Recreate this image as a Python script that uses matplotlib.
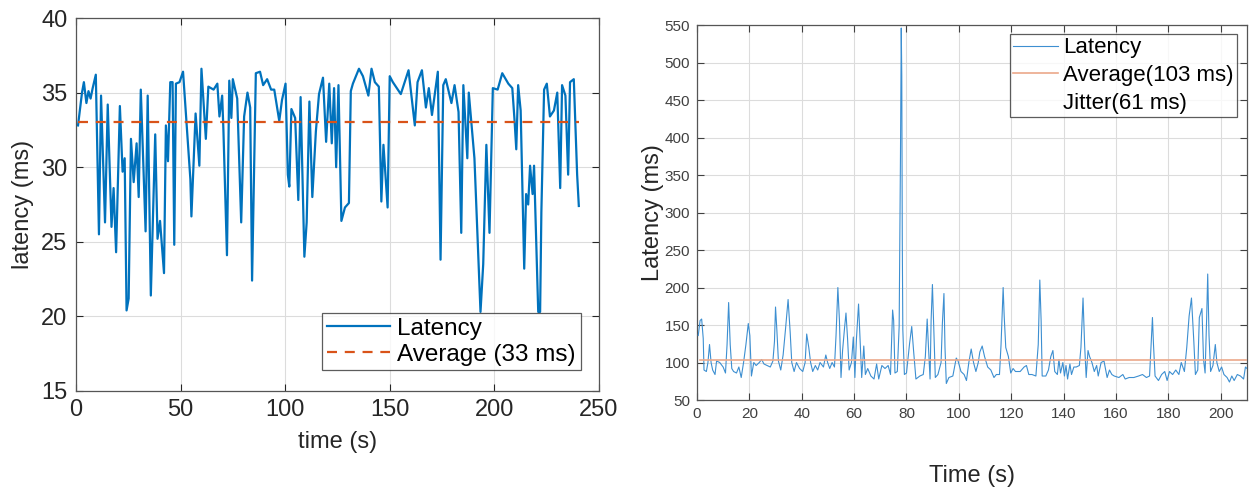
import matplotlib
matplotlib.use("Agg")
import matplotlib.pyplot as plt
from matplotlib.lines import Line2D

plt.rcParams['font.family'] = ['Liberation Sans', 'DejaVu Sans']

# ---------------- left panel data ----------------
left_time = [1, 2.9, 3.8, 5, 6, 7, 8, 9.5, 11, 12, 13.9, 15.2, 17, 18, 19.2, 21, 22.3, 23.3,
             24.2, 25.2, 26.3, 27.6, 29, 30, 31, 33.3, 34.3, 35.8, 37.9, 39, 40.2, 42.1, 43,
             44, 45.1, 46.2, 47, 47.8, 49.5, 51.2, 54.7, 55.2, 57.2, 59, 60, 62.1, 63.3, 65.8,
             67.6, 68.6, 69.9, 70.5, 72.2, 73.3, 74.3, 75, 77.1, 79, 80.4, 82, 83.3, 84.2, 86,
             88, 89.5, 91.4, 93.3, 94.8, 97.2, 98.5, 100.2, 101.3, 102, 103, 104.8, 106.3, 107.4,
             109.2, 110.3, 111.6, 113, 114.7, 116.2, 118.1, 119.6, 121.1, 122.3, 123.4, 124.4,
             125.5, 126.9, 128.6, 130.5, 131.4, 132.4, 135.3, 137.2, 139.8, 141.3, 142.9, 144.8,
             146, 147, 149, 150, 151.5, 155.3, 159, 162, 163.3, 165.4, 167.3, 168.7, 170.2, 173,
             174.3, 175.6, 176.8, 179.5, 181, 182.9, 184.2, 185.2, 187.1, 187.8, 190.5, 193.4,
             194.7, 196.2, 197.7, 199.3, 201.6, 203.8, 206.7, 208.6, 209.7, 210.5, 211.4, 212.6,
             214.3, 215.2, 216.2, 217.1, 218.3, 219, 221, 221.9, 222.5, 223.8, 225.1, 226.6,
             228.5, 230.1, 231.5, 232.4, 234, 235.3, 236.2, 238, 239.6, 240.4]
left_latency = [32.8, 35.0, 35.7, 34.3, 35.1, 34.6, 35.3, 36.2, 25.5, 34.8, 26.3, 34.2, 26.0,
                28.6, 24.3, 34.1, 29.7, 30.6, 20.4, 21.2, 31.9, 29.0, 31.6, 28.0, 35.2, 25.7,
                34.8, 21.4, 32.2, 25.2, 26.4, 22.9, 32.8, 30.4, 35.7, 35.7, 24.8, 35.6, 35.7,
                36.4, 29.2, 26.7, 33.6, 30.1, 36.6, 31.9, 35.4, 35.2, 35.6, 33.4, 34.8, 32.5,
                24.1, 35.8, 33.3, 35.9, 34.6, 26.3, 33.4, 35.0, 34.0, 22.4, 36.3, 36.4, 35.5,
                35.9, 35.2, 35.2, 33.1, 34.5, 35.6, 29.5, 28.7, 33.9, 33.3, 27.8, 34.7, 24.0,
                26.3, 34.4, 28.0, 32.4, 34.9, 36.0, 31.7, 35.6, 31.6, 35.3, 30.0, 35.5, 26.4,
                27.3, 27.6, 35.1, 35.6, 36.6, 36.1, 34.8, 36.6, 35.7, 35.4, 27.7, 31.5, 27.3,
                36.1, 35.7, 34.9, 36.5, 32.8, 35.7, 36.5, 34.0, 35.3, 33.5, 36.4, 23.8, 35.5,
                35.9, 34.3, 35.5, 33.7, 25.6, 35.5, 30.6, 35.0, 30.6, 20.3, 23.5, 31.5, 25.6,
                35.3, 35.2, 36.3, 35.6, 35.3, 33.1, 31.2, 35.5, 33.8, 23.2, 28.2, 27.5, 30.1,
                28.2, 30.1, 20.3, 20.3, 27.0, 35.2, 35.6, 33.4, 33.8, 35.0, 28.6, 35.5, 34.8,
                29.5, 35.7, 35.9, 29.5, 27.4]
left_average = 33

# ---------------- right panel data ----------------
right_time = [0.5, 1.2, 1.8, 2.4, 2.7, 3.6, 4.2, 4.8, 5.4, 6.0, 6.9, 7.5, 8.7, 10.0, 10.9,
              11.5, 12.1, 12.7, 13.3, 14.0, 15.1, 16.0, 16.9, 17.8, 18.7, 19.6, 20.2, 20.8,
              21.7, 22.6, 23.8, 24.7, 25.6, 26.8, 28.0, 29.0, 29.6, 30.0, 30.5, 31.1, 32.0,
              32.9, 33.8, 34.8, 35.6, 36.2, 37.1, 38.0, 39.2, 40.4, 41.3, 41.9, 42.7, 43.4,
              44.2, 45.2, 46.1, 47.0, 48.3, 49.2, 49.9, 50.7, 51.6, 52.5, 53.1, 53.8, 54.4,
              55.0, 55.6, 56.3, 56.9, 57.5, 58.1, 59.0, 59.7, 60.3, 60.9, 61.7, 62.3, 62.9,
              63.7, 64.3, 65.2, 66.4, 67.6, 68.6, 69.4, 70.6, 71.8, 73.0, 73.9, 74.7, 75.1,
              75.6, 76.5, 77.2, 77.7, 77.9, 78.0, 78.2, 78.4, 78.6, 79.2, 80.0, 81.2, 82.0,
              82.7, 83.6, 85.1, 86.4, 87.2, 87.9, 88.4, 89.0, 89.4, 89.9, 90.4, 91.0, 92.0,
              93.2, 93.7, 94.3, 94.7, 95.2, 96.2, 97.7, 99.0, 99.7, 100.8, 102.0, 102.9,
              103.8, 104.7, 105.6, 106.5, 107.4, 108.0, 108.9, 109.8, 111.0, 112.2, 113.4,
              114.3, 115.5, 116.1, 116.9, 117.3, 117.9, 118.9, 119.8, 120.7, 121.6, 123.4,
              124.9, 125.8, 126.7, 127.9, 129.4, 130.3, 130.9, 131.4, 131.8, 133.2, 134.2,
              135.1, 135.9, 136.6, 137.6, 138.2, 138.8, 139.7, 140.3, 140.9, 141.5, 142.4,
              143.0, 143.9, 144.8, 146.0, 146.6, 147.4, 148.0, 148.6, 149.3, 149.9, 150.8,
              151.7, 152.6, 153.2, 154.3, 155.4, 156.6, 157.5, 158.4, 159.3, 161.1, 162.6,
              163.5, 165.0, 166.8, 168.6, 170.1, 171.6, 172.8, 173.5, 173.9, 174.3, 174.9,
              176.2, 177.4, 178.6, 179.5, 180.4, 181.6, 182.8, 184.0, 184.9, 186.1, 187.0,
              187.9, 188.8, 189.7, 190.3, 191.2, 191.8, 192.8, 193.4, 194.0, 194.6, 195.0,
              195.5, 196.1, 197.0, 197.9, 198.5, 199.4, 200.3, 201.2, 202.4, 203.3, 204.2,
              205.1, 206.3, 207.5, 208.7, 209.4, 210.0]
right_latency = [136, 156, 158, 132, 90, 88, 100, 124, 100, 90, 84, 102, 100, 94, 86,
                 124, 180, 124, 92, 88, 86, 94, 80, 100, 124, 152, 136, 82,
                 100, 96, 100, 104, 98, 96, 94, 102, 128, 174, 144, 102, 90,
                 110, 144, 184, 140, 100, 88, 100, 92, 88, 100, 138, 120, 100,
                 88, 96, 90, 100, 94, 110, 100, 92, 100, 94, 136, 200, 156,
                 80, 116, 144, 166, 132, 90, 100, 134, 80, 132, 178, 128, 80,
                 122, 84, 92, 82, 78, 98, 78, 96, 92, 96, 84, 170, 156,
                 86, 88, 148, 375, 489, 546, 483, 260, 144, 84, 86, 126, 148,
                 116, 78, 82, 84, 108, 158, 120, 78, 156, 204, 148, 80, 84,
                 100, 152, 192, 120, 72, 80, 82, 106, 102, 88, 84, 76,
                 100, 118, 100, 88, 100, 114, 122, 108, 94, 90, 80,
                 84, 84, 124, 200, 162, 120, 108, 86, 92, 88, 88,
                 94, 96, 84, 84, 82, 124, 210, 156, 82, 82, 90,
                 108, 116, 88, 84, 104, 86, 100, 82, 96, 78, 98,
                 84, 94, 94, 96, 120, 186, 124, 80, 116, 108, 100,
                 88, 96, 82, 100, 102, 80, 90, 84, 82, 80, 84,
                 78, 80, 80, 82, 84, 80, 82, 130, 160, 124, 82,
                 76, 84, 88, 76, 88, 84, 90, 84, 100, 88, 120,
                 162, 186, 128, 84, 90, 160, 172, 104, 86, 160, 218,
                 136, 88, 96, 124, 100, 88, 94, 84, 80, 74, 82,
                 76, 84, 82, 78, 94, 92]
right_average = 103
right_jitter = 61

blue = '#0072BD'
orange = '#D95319'
txt = '#262626'

fig = plt.figure(figsize=(12.49, 4.88), dpi=100)

# ---------------- left axes ----------------
ax1 = fig.add_axes([0.0608, 0.1988, 0.4187, 0.7643])
ax1.plot(left_time, left_latency, color=blue, lw=1.6, label='Latency', zorder=3)
ax1.plot([left_time[0], left_time[-1]], [left_average, left_average], color=orange,
         lw=1.6, ls=(0, (4.5, 3.5)), label='Average (%d ms)' % left_average, zorder=4)
ax1.set_xlim(0, 250)
ax1.set_ylim(15, 40)
ax1.set_xticks([0, 50, 100, 150, 200, 250])
ax1.set_yticks([15, 20, 25, 30, 35, 40])
ax1.grid(True, color='#dcdcdc', lw=0.8)
ax1.set_axisbelow(True)
ax1.tick_params(direction='in', top=True, right=True, labelsize=17, colors=txt,
                length=5, width=0.8, pad=6)
for s in ax1.spines.values():
    s.set_color('#555555')
    s.set_linewidth(0.9)
ax1.set_xlabel('time (s)', fontsize=17, color=txt, labelpad=7)
ax1.set_ylabel('latency (ms)', fontsize=17, color=txt, labelpad=5)
leg1 = ax1.legend(loc='lower right', fontsize=17.5, frameon=True, fancybox=False,
                  edgecolor='#333333', borderpad=0.2, handlelength=2.6,
                  handletextpad=0.3, labelspacing=0.15, borderaxespad=0.0,
                  bbox_to_anchor=(0.965, 0.055))
leg1.get_frame().set_linewidth(0.9)

# ---------------- right axes ----------------
ax2 = fig.add_axes([0.558, 0.1803, 0.4404, 0.7684])
ax2.plot(right_time, right_latency, color='#3d8fd1', lw=0.8, zorder=3)
ax2.plot([right_time[0] + 0.5, 210], [right_average, right_average], color='#eba88a',
         lw=1.2, zorder=4)
ax2.set_xlim(0, 210)
ax2.set_ylim(50, 550)
ax2.set_xticks(range(0, 201, 20))
ax2.set_yticks(range(50, 551, 50))
ax2.grid(True, color='#dcdcdc', lw=0.8)
ax2.set_axisbelow(True)
ax2.tick_params(direction='in', top=True, right=True, labelsize=11, colors='#404040',
                length=5, width=0.8, pad=5)
for s in ax2.spines.values():
    s.set_color('#555555')
    s.set_linewidth(0.9)
ax2.set_xlabel('Time (s)', fontsize=17, color=txt, labelpad=32)
ax2.set_ylabel('Latency (ms)', fontsize=17, color=txt, labelpad=0)
h = [Line2D([], [], color='#3d8fd1', lw=0.8),
     Line2D([], [], color='#eba88a', lw=1.2),
     Line2D([], [], color='none')]
labels = ['Latency', 'Average(%d ms)' % right_average, 'Jitter(%d ms)' % right_jitter]
leg2 = ax2.legend(h, labels, loc='upper right', fontsize=16, frameon=True, fancybox=False,
                  edgecolor='#333333', borderpad=0.15, handlelength=2.0,
                  handletextpad=0.25, labelspacing=0.3, borderaxespad=0.0,
                  bbox_to_anchor=(0.982, 0.976))
leg2.get_frame().set_linewidth(0.9)

fig.savefig('out.png', dpi=100)
